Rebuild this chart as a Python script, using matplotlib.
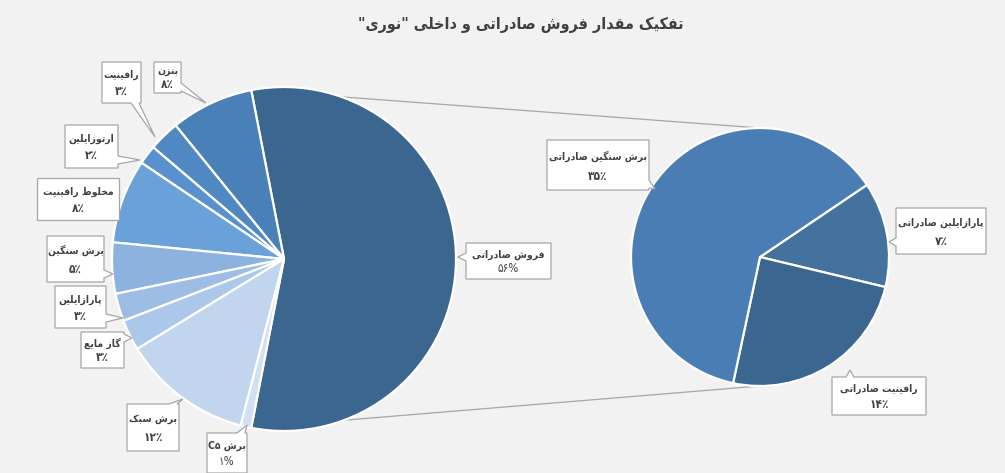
import numpy as np
import matplotlib
matplotlib.use('Agg')
import matplotlib.pyplot as plt
from matplotlib import font_manager
from matplotlib.patches import Polygon

# ---------------------------------------------------------------------------
# DATA
# ---------------------------------------------------------------------------
TITLE = 'تفکیک مقدار فروش صادراتی و داخلی "نوری"'

# main pie, first slice is the split-off export slice
main_names = ['فروش صادراتی', 'بنزن', 'رافینیت', 'ارتوزایلین', 'مخلوط رافینیت',
              'برش سنگین', 'پارازایلین', 'گاز مایع', 'برش سبک', 'برش C5']
main_values = [56.1, 7.8, 2.9, 1.8, 7.9, 4.8, 2.6, 2.9, 12.2, 1.0]
main_labels = ['۵۶%', '۸٪', '۳٪', '۲٪', '۸٪', '۵٪', '۳٪', '۳٪', '۱۲٪', '۱%']

# secondary pie (breakdown of exports)
sub_names = ['پارازایلین صادراتی', 'رافینیت صادراتی', 'برش سنگین صادراتی']
sub_values = [7.4, 13.8, 34.9]
sub_labels = ['۷٪', '۱۴٪', '۳۵٪']

main_colors = ['#3b6690', '#4a80b8', '#4f88c3', '#5891cd', '#6aa1d9',
               '#8cb2e0', '#9dbde5', '#abc7ea', '#c1d5ee', '#d3e0f2']
sub_colors = ['#44729f', '#3b6690', '#4a7db3']

# ---------------------------------------------------------------------------
# LAYOUT (pixel coords, y measured from the top)
# ---------------------------------------------------------------------------
W, H = 1005, 473
BG = '#f2f2f2'
TXT = '#404040'
MAIN_C, MAIN_R = (284, 259), 172
SUB_C, SUB_R = (760, 257), 129

# label boxes (x0, y0, x1, y1) and pointer tips
main_boxes = [(466, 243, 551, 279), (154, 62, 181, 93), (102, 62, 141, 103),
              (65, 125, 118, 168), (37, 178, 119, 220), (47, 236, 104, 282),
              (55, 286, 106, 328), (81, 332, 124, 368), (127, 404, 179, 451),
              (207, 433, 247, 473)]
main_tips = [(458, 257), (206, 103), (155, 137), (140, 160), (119, 207),
             (113, 274), (123, 318), (132, 338), (183, 399), (247, 425)]
main_bold_pct = [False, True, True, True, True, True, True, True, True, False]

sub_boxes = [(896, 208, 986, 254), (832, 377, 926, 415), (547, 140, 649, 190)]
sub_tips = [(889, 242), (850, 370), (655, 189)]


# ---------------------------------------------------------------------------
# FONTS: condensed DejaVu has the arabic presentation forms and is narrower
# ---------------------------------------------------------------------------
def find_font(stem):
    for f in font_manager.fontManager.ttflist:
        if f.fname.endswith(stem):
            return font_manager.FontProperties(fname=f.fname)
    return None


FP_BOLD = find_font('DejaVuSansCondensed-Bold.ttf') or \
    font_manager.FontProperties(family='DejaVu Sans', weight='bold')
FP_REG = find_font('DejaVuSansCondensed.ttf') or \
    font_manager.FontProperties(family='DejaVu Sans')

# ---------------------------------------------------------------------------
# simple persian shaping (matplotlib has no bidi / joining support)
# ---------------------------------------------------------------------------
FORMS = {
    'ا': ('\uFE8D', '\uFE8E', None, None),
    'ب': ('\uFE8F', '\uFE90', '\uFE91', '\uFE92'),
    'پ': ('\uFB56', '\uFB57', '\uFB58', '\uFB59'),
    'ت': ('\uFE95', '\uFE96', '\uFE97', '\uFE98'),
    'خ': ('\uFEA5', '\uFEA6', '\uFEA7', '\uFEA8'),
    'د': ('\uFEA9', '\uFEAA', None, None),
    'ر': ('\uFEAD', '\uFEAE', None, None),
    'ز': ('\uFEAF', '\uFEB0', None, None),
    'س': ('\uFEB1', '\uFEB2', '\uFEB3', '\uFEB4'),
    'ش': ('\uFEB5', '\uFEB6', '\uFEB7', '\uFEB8'),
    'ص': ('\uFEB9', '\uFEBA', '\uFEBB', '\uFEBC'),
    'ط': ('\uFEC1', '\uFEC2', '\uFEC3', '\uFEC4'),
    'ع': ('\uFEC9', '\uFECA', '\uFECB', '\uFECC'),
    'ف': ('\uFED1', '\uFED2', '\uFED3', '\uFED4'),
    'ق': ('\uFED5', '\uFED6', '\uFED7', '\uFED8'),
    'ک': ('\uFB8E', '\uFB8F', '\uFB90', '\uFB91'),
    'گ': ('\uFB92', '\uFB93', '\uFB94', '\uFB95'),
    'ل': ('\uFEDD', '\uFEDE', '\uFEDF', '\uFEE0'),
    'م': ('\uFEE1', '\uFEE2', '\uFEE3', '\uFEE4'),
    'ن': ('\uFEE5', '\uFEE6', '\uFEE7', '\uFEE8'),
    'و': ('\uFEED', '\uFEEE', None, None),
    'ی': ('\uFBFC', '\uFBFD', '\uFBFE', '\uFBFF'),
}


def shape_word(word):
    out = []
    for i, ch in enumerate(word):
        if ch not in FORMS:
            out.append(ch)
            continue
        prev = word[i - 1] if i > 0 else None
        nxt = word[i + 1] if i + 1 < len(word) else None
        join_prev = prev in FORMS and FORMS[prev][2] is not None
        join_next = FORMS[ch][2] is not None and nxt in FORMS
        iso, fin, ini, med = FORMS[ch]
        if join_prev and join_next:
            out.append(med)
        elif join_prev:
            out.append(fin)
        elif join_next:
            out.append(ini)
        else:
            out.append(iso)
    return ''.join(out)


def fa(text):
    # shape, then reverse word order + letters, keep latin/digit runs LTR
    words = text.split(' ')
    vis = []
    for w in reversed(words):
        if any(c in FORMS for c in w):
            vis.append(shape_word(w)[::-1])
        else:
            vis.append(w.replace('5', '۵'))
    return ' '.join(vis)


def py(y):
    return H - y


def callout(ax, box, tip, name, pct, pct_bold=True, fs=7.5):
    x0, y0, x1, y1 = box
    cx, cy = (x0 + x1) / 2, (y0 + y1) / 2
    tx, ty = tip
    dx = (tx - cx) / ((x1 - x0) / 2)
    dy = (ty - cy) / ((y1 - y0) / 2)
    hw = 4
    if abs(dx) > abs(dy):
        b = min(max(ty, y0 + hw + 2), y1 - hw - 2)
        if dx > 0:
            pts = [(x0, y0), (x1, y0), (x1, b - hw), (tx, ty), (x1, b + hw), (x1, y1), (x0, y1)]
        else:
            pts = [(x0, y0), (x1, y0), (x1, y1), (x0, y1), (x0, b + hw), (tx, ty), (x0, b - hw)]
    else:
        b = min(max(tx, x0 + hw + 2), x1 - hw - 2)
        if dy > 0:
            pts = [(x0, y0), (x1, y0), (x1, y1), (b + hw, y1), (tx, ty), (b - hw, y1), (x0, y1)]
        else:
            pts = [(x0, y0), (b - hw, y0), (tx, ty), (b + hw, y0), (x1, y0), (x1, y1), (x0, y1)]
    poly = Polygon([(x, py(y)) for x, y in pts], closed=True, fc='white', ec='#a6a6a6',
                   lw=0.9, zorder=5)
    ax.add_patch(poly)
    h = y1 - y0
    ax.text(cx, py(y0 + h * 0.32), name, ha='center', va='center', fontproperties=FP_BOLD,
            fontsize=fs, color=TXT, zorder=6)
    ax.text(cx, py(y0 + h * 0.72), pct, ha='center', va='center',
            fontproperties=FP_BOLD if pct_bold else FP_REG, fontsize=fs + 1, color=TXT, zorder=6)


# ---------------------------------------------------------------------------
# PLOT
# ---------------------------------------------------------------------------
fig = plt.figure(figsize=(W / 100, H / 100), dpi=100, facecolor=BG)
ax = fig.add_axes([0, 0, 1, 1])

big_span = main_values[0] / sum(main_values) * 360
ax.pie(main_values, colors=main_colors, startangle=-big_span / 2, counterclock=True,
       center=(MAIN_C[0], py(MAIN_C[1])), radius=MAIN_R,
       wedgeprops=dict(edgecolor='white', linewidth=1.6))

sub_start = 34
ax.pie(sub_values, colors=sub_colors, startangle=sub_start, counterclock=False,
       center=(SUB_C[0], py(SUB_C[1])), radius=SUB_R,
       wedgeprops=dict(edgecolor='white', linewidth=1.6))

# connector lines between the two pies
a = np.deg2rad(big_span / 2)
x_top = MAIN_C[0] + MAIN_R * np.cos(a)
y_top = py(MAIN_C[1]) + MAIN_R * np.sin(a)
y_bot = py(MAIN_C[1]) - MAIN_R * np.sin(a)
ax.plot([x_top, SUB_C[0]], [y_top, py(SUB_C[1]) + SUB_R], color='#a6a6a6', lw=0.9, zorder=0)
ax.plot([x_top, SUB_C[0]], [y_bot, py(SUB_C[1]) - SUB_R], color='#a6a6a6', lw=0.9, zorder=0)

for i, name in enumerate(main_names):
    callout(ax, main_boxes[i], main_tips[i], fa(name), main_labels[i], main_bold_pct[i])
for i, name in enumerate(sub_names):
    callout(ax, sub_boxes[i], sub_tips[i], fa(name), sub_labels[i])

ax.text(521, py(25), fa(TITLE), ha='center', va='center', fontproperties=FP_BOLD,
        fontsize=11.5, color=TXT)

ax.set_xlim(0, W)
ax.set_ylim(0, H)
ax.set_aspect('auto')
ax.axis('off')

fig.savefig('out.png', dpi=100, facecolor=BG)
